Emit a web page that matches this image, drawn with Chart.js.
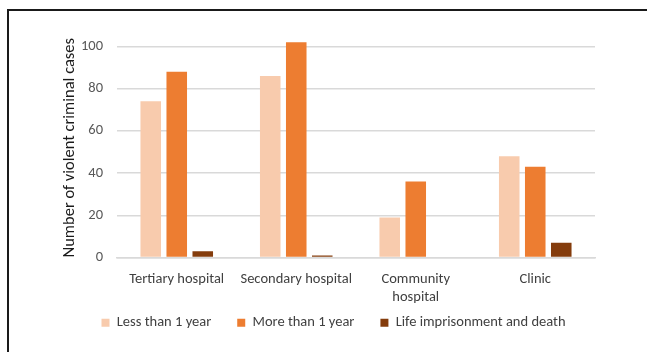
<!DOCTYPE html>
<html>
<head>
<meta charset="utf-8">
<script src="https://cdn.jsdelivr.net/npm/chart.js@4"></script>
<style>
  html, body { margin: 0; padding: 0; background: #fff; }
  #wrap { position: relative; width: 647px; height: 352px; overflow: hidden; }
  #frame { position: absolute; left: 7px; top: 9px; width: 700px; height: 400px;
           border-left: 2px solid #1a1a1a; border-top: 2px solid #1a1a1a; }
  #box { position: absolute; left: 0; top: 0; width: 647px; height: 352px; }
</style>
</head>
<body>
<div id="wrap">
  <div id="frame"></div>
  <div id="box"><canvas id="chart"></canvas></div>
</div>
<script>
// categories and series
const categories = ['Tertiary hospital', 'Secondary hospital', ['Community', 'hospital'], 'Clinic'];
const lessThanOne = [74, 86, 19, 48];
const moreThanOne = [88, 102, 36, 43];
const lifeOrDeath = [3, 1, 0, 7];
const yTicks = [0, 20, 40, 60, 80, 100];

const FONT = 'Carlito, Lato, sans-serif';

// move the legend after layout so it sits where the original has it
const legendShift = {
    id: 'legendShift',
    afterLayout(chart) {
        const lg = chart.legend;
        lg.left += 7;
        lg.right += 7;
        lg.top -= 18;
        lg.bottom -= 18;
    }
};

const ctx = document.getElementById('chart').getContext('2d');
new Chart(ctx, {
    type: 'bar',
    data: {
        labels: categories,
        datasets: [
            { label: 'Less than 1 year', data: lessThanOne, backgroundColor: '#f8cbad' },
            { label: 'More than 1 year', data: moreThanOne, backgroundColor: '#ed7d31' },
            { label: 'Life imprisonment and death', data: lifeOrDeath, backgroundColor: '#843c0c' }
        ]
    },
    options: {
        responsive: true,
        maintainAspectRatio: false,
        animation: false,
        categoryPercentage: 0.653,
        barPercentage: 0.79,
        layout: { padding: { left: 58, right: 52, top: 38, bottom: -6 } },
        plugins: {
            legend: {
                position: 'bottom',
                labels: {
                    boxWidth: 8,
                    boxHeight: 8,
                    padding: 26,
                    color: '#404040',
                    font: { family: FONT, size: 14.5 }
                }
            },
            tooltip: { enabled: false }
        },
        scales: {
            x: {
                afterFit(scale) {
                    scale.height = 50;
                },
                grid: { display: false, drawTicks: false },
                border: { display: true, color: '#d9d9d9', width: 1.5 },
                ticks: {
                    padding: 13,
                    color: '#404040',
                    font: { family: FONT, size: 14.5, lineHeight: 1.25 }
                }
            },
            y: {
                min: 0,
                max: 104,
                afterBuildTicks(scale) {
                    scale.ticks = yTicks.map(v => ({ value: v }));
                },
                afterFit(scale) {
                    scale.width = 59;
                },
                grid: { color: '#d9d9d9', lineWidth: 1.5, drawTicks: false },
                border: { display: false },
                ticks: {
                    padding: 14,
                    color: '#595959',
                    font: { family: FONT, size: 14.5 }
                },
                title: {
                    display: true,
                    text: 'Number of violent criminal cases',
                    color: '#1a1a1a',
                    padding: { top: 2, bottom: 0 },
                    font: { family: FONT, size: 16.5 }
                }
            }
        }
    },
    plugins: [legendShift]
});
</script>
</body>
</html>
